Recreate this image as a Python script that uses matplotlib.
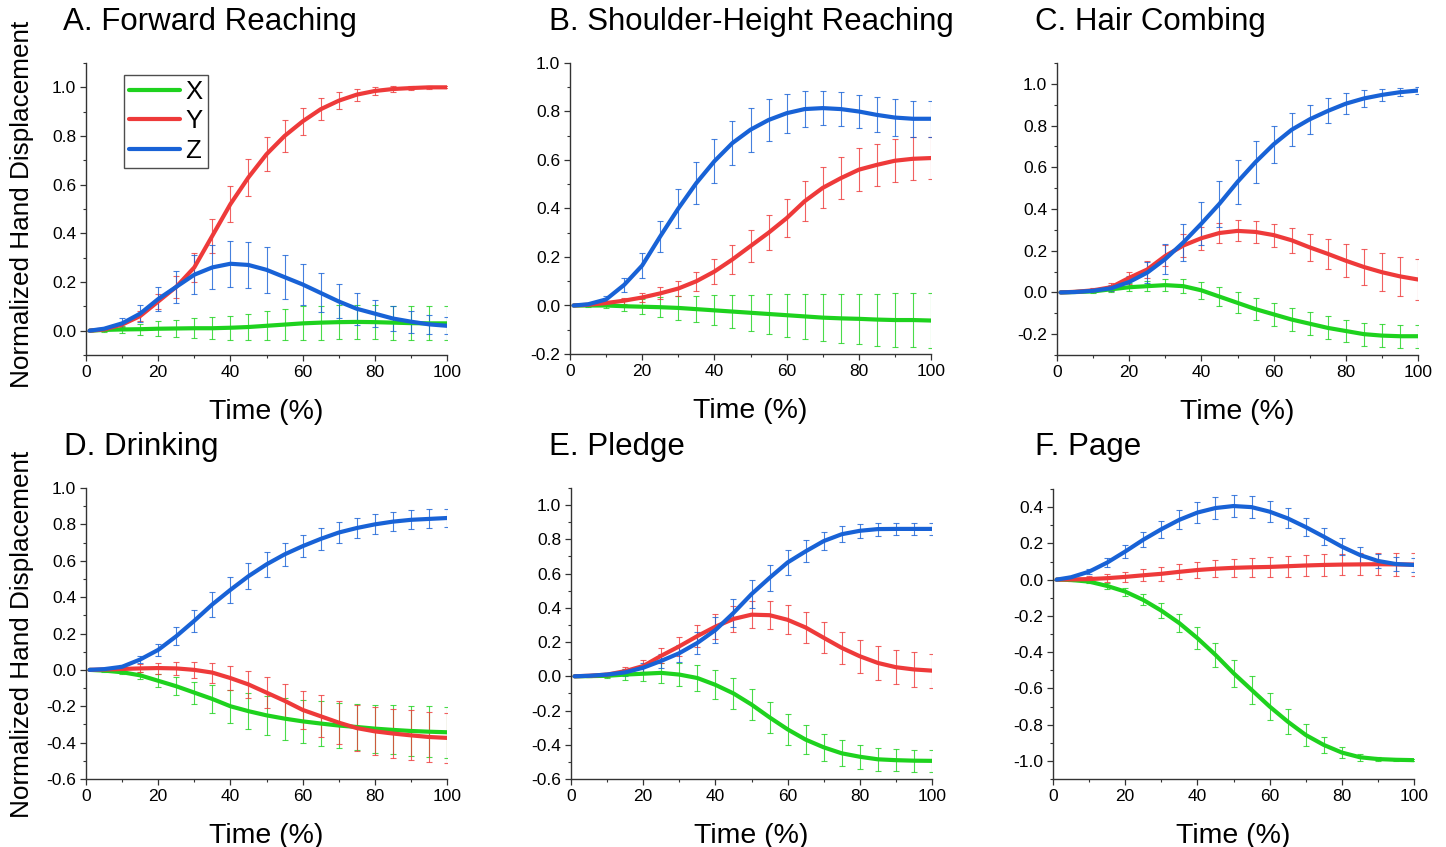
import matplotlib
matplotlib.use("Agg")
import matplotlib.pyplot as plt
from matplotlib.ticker import MultipleLocator

plt.rcParams['font.family'] = ['Liberation Sans', 'DejaVu Sans']

# ---------------- data ----------------
time_pct = [1, 5, 10, 15, 20, 25, 30, 35, 40, 45, 50, 55, 60, 65, 70, 75, 80, 85, 90, 95, 100]

titles = ["A. Forward Reaching", "B. Shoulder-Height Reaching", "C. Hair Combing",
          "D. Drinking", "E. Pledge", "F. Page"]
series_names = ["X", "Y", "Z"]

# A. Forward Reaching
a_x = [0, 0.003, 0.005, 0.006, 0.008, 0.009, 0.01, 0.01, 0.012, 0.015, 0.02, 0.025, 0.03, 0.033, 0.035, 0.036, 0.035, 0.033, 0.031, 0.03, 0.03]
a_x_sd = [0, 0.008, 0.015, 0.022, 0.03, 0.035, 0.04, 0.045, 0.05, 0.055, 0.06, 0.065, 0.07, 0.07, 0.07, 0.07, 0.07, 0.07, 0.07, 0.07, 0.07]
a_y = [0, 0.005, 0.025, 0.06, 0.12, 0.18, 0.26, 0.39, 0.52, 0.63, 0.725, 0.80, 0.86, 0.91, 0.945, 0.97, 0.985, 0.993, 0.997, 1.0, 1.0]
a_y_sd = [0, 0.005, 0.01, 0.02, 0.03, 0.045, 0.06, 0.07, 0.075, 0.075, 0.07, 0.065, 0.055, 0.045, 0.035, 0.025, 0.018, 0.012, 0.008, 0.005, 0.004]
a_z = [0, 0.008, 0.03, 0.07, 0.13, 0.18, 0.23, 0.26, 0.275, 0.27, 0.25, 0.22, 0.19, 0.155, 0.12, 0.09, 0.07, 0.05, 0.037, 0.026, 0.02]
a_z_sd = [0, 0.005, 0.02, 0.035, 0.05, 0.065, 0.08, 0.09, 0.095, 0.095, 0.095, 0.09, 0.085, 0.08, 0.07, 0.065, 0.055, 0.05, 0.045, 0.04, 0.035]

# B. Shoulder-Height Reaching
b_x = [0, 0.0, 0.0, -0.003, -0.005, -0.007, -0.01, -0.015, -0.02, -0.025, -0.03, -0.035, -0.04, -0.045, -0.05, -0.053, -0.055, -0.058, -0.06, -0.06, -0.062]
b_x_sd = [0, 0.005, 0.012, 0.02, 0.03, 0.04, 0.05, 0.055, 0.062, 0.068, 0.075, 0.082, 0.088, 0.093, 0.097, 0.1, 0.104, 0.107, 0.11, 0.112, 0.113]
b_y = [0, 0.003, 0.01, 0.02, 0.033, 0.05, 0.07, 0.1, 0.14, 0.19, 0.245, 0.30, 0.36, 0.43, 0.485, 0.525, 0.56, 0.58, 0.597, 0.605, 0.608]
b_y_sd = [0, 0.003, 0.008, 0.012, 0.02, 0.025, 0.032, 0.04, 0.05, 0.06, 0.065, 0.072, 0.078, 0.082, 0.085, 0.087, 0.088, 0.088, 0.088, 0.088, 0.088]
b_z = [0, 0.005, 0.025, 0.085, 0.165, 0.285, 0.40, 0.505, 0.595, 0.67, 0.725, 0.765, 0.793, 0.81, 0.814, 0.81, 0.80, 0.786, 0.775, 0.77, 0.77]
b_z_sd = [0, 0.005, 0.015, 0.03, 0.05, 0.065, 0.08, 0.085, 0.09, 0.09, 0.09, 0.085, 0.08, 0.075, 0.07, 0.07, 0.07, 0.072, 0.075, 0.075, 0.075]

# C. Hair Combing
c_x = [0, 0.002, 0.005, 0.015, 0.025, 0.03, 0.035, 0.03, 0.01, -0.02, -0.05, -0.08, -0.105, -0.13, -0.15, -0.17, -0.185, -0.2, -0.207, -0.21, -0.21]
c_x_sd = [0, 0.002, 0.008, 0.015, 0.02, 0.025, 0.03, 0.035, 0.04, 0.045, 0.05, 0.052, 0.055, 0.055, 0.055, 0.055, 0.055, 0.055, 0.055, 0.055, 0.055]
c_y = [0, 0.003, 0.01, 0.025, 0.07, 0.11, 0.175, 0.225, 0.26, 0.285, 0.295, 0.29, 0.275, 0.25, 0.216, 0.185, 0.152, 0.122, 0.097, 0.077, 0.062]
c_y_sd = [0, 0.003, 0.01, 0.02, 0.03, 0.04, 0.05, 0.055, 0.055, 0.05, 0.05, 0.052, 0.055, 0.06, 0.065, 0.072, 0.078, 0.085, 0.09, 0.095, 0.1]
c_z = [0, 0.002, 0.008, 0.02, 0.05, 0.095, 0.16, 0.24, 0.33, 0.425, 0.53, 0.625, 0.71, 0.78, 0.83, 0.87, 0.905, 0.93, 0.947, 0.96, 0.968]
c_z_sd = [0, 0.003, 0.008, 0.015, 0.03, 0.05, 0.07, 0.09, 0.105, 0.11, 0.105, 0.1, 0.09, 0.08, 0.07, 0.06, 0.05, 0.04, 0.03, 0.02, 0.015]

# D. Drinking
d_x = [0, -0.004, -0.013, -0.03, -0.06, -0.09, -0.125, -0.16, -0.2, -0.227, -0.25, -0.268, -0.283, -0.295, -0.306, -0.314, -0.323, -0.33, -0.336, -0.34, -0.343]
d_x_sd = [0, 0.005, 0.01, 0.02, 0.035, 0.05, 0.06, 0.075, 0.09, 0.1, 0.108, 0.115, 0.12, 0.123, 0.126, 0.129, 0.132, 0.135, 0.138, 0.14, 0.141]
d_y = [0, 0.002, 0.005, 0.008, 0.01, 0.008, 0.0, -0.015, -0.045, -0.08, -0.125, -0.17, -0.22, -0.255, -0.29, -0.32, -0.338, -0.35, -0.36, -0.369, -0.374]
d_y_sd = [0, 0.005, 0.012, 0.022, 0.03, 0.038, 0.045, 0.055, 0.065, 0.075, 0.085, 0.095, 0.105, 0.115, 0.12, 0.127, 0.132, 0.135, 0.137, 0.137, 0.137]
d_z = [0, 0.004, 0.017, 0.057, 0.11, 0.185, 0.27, 0.36, 0.44, 0.515, 0.58, 0.635, 0.68, 0.72, 0.755, 0.78, 0.80, 0.815, 0.825, 0.83, 0.835]
d_z_sd = [0, 0.003, 0.01, 0.02, 0.035, 0.05, 0.06, 0.068, 0.07, 0.07, 0.068, 0.065, 0.062, 0.06, 0.058, 0.056, 0.055, 0.054, 0.053, 0.052, 0.052]

# E. Pledge
e_x = [0, 0.001, 0.003, 0.01, 0.015, 0.02, 0.01, -0.01, -0.05, -0.1, -0.165, -0.24, -0.31, -0.37, -0.415, -0.45, -0.47, -0.485, -0.49, -0.493, -0.494]
e_x_sd = [0, 0.005, 0.015, 0.03, 0.045, 0.058, 0.068, 0.078, 0.085, 0.09, 0.092, 0.092, 0.09, 0.085, 0.08, 0.075, 0.07, 0.067, 0.065, 0.064, 0.064]
e_y = [0, 0.003, 0.01, 0.03, 0.06, 0.12, 0.175, 0.235, 0.29, 0.335, 0.36, 0.357, 0.33, 0.285, 0.225, 0.166, 0.117, 0.078, 0.053, 0.04, 0.033]
e_y_sd = [0, 0.005, 0.012, 0.025, 0.035, 0.045, 0.055, 0.065, 0.072, 0.078, 0.08, 0.082, 0.085, 0.088, 0.09, 0.093, 0.095, 0.097, 0.098, 0.1, 0.1]
e_z = [0, 0.003, 0.01, 0.023, 0.05, 0.09, 0.135, 0.195, 0.27, 0.37, 0.48, 0.575, 0.665, 0.73, 0.79, 0.83, 0.85, 0.86, 0.861, 0.861, 0.861]
e_z_sd = [0, 0.003, 0.01, 0.02, 0.03, 0.04, 0.05, 0.065, 0.075, 0.08, 0.08, 0.078, 0.072, 0.065, 0.055, 0.048, 0.04, 0.038, 0.037, 0.037, 0.037]

# F. Page
f_x = [0, -0.002, -0.011, -0.035, -0.066, -0.112, -0.171, -0.24, -0.323, -0.415, -0.516, -0.608, -0.70, -0.783, -0.857, -0.912, -0.954, -0.98, -0.99, -0.994, -0.996]
f_x_sd = [0, 0.003, 0.008, 0.015, 0.022, 0.03, 0.04, 0.05, 0.06, 0.068, 0.075, 0.078, 0.077, 0.07, 0.06, 0.045, 0.032, 0.02, 0.012, 0.007, 0.005]
f_y = [0, 0.001, 0.003, 0.008, 0.015, 0.024, 0.032, 0.043, 0.053, 0.06, 0.065, 0.068, 0.07, 0.074, 0.078, 0.081, 0.083, 0.084, 0.085, 0.084, 0.083]
f_y_sd = [0, 0.008, 0.015, 0.022, 0.028, 0.033, 0.038, 0.042, 0.045, 0.048, 0.05, 0.053, 0.055, 0.057, 0.058, 0.06, 0.06, 0.061, 0.062, 0.062, 0.062]
f_z = [0, 0.013, 0.044, 0.094, 0.155, 0.22, 0.278, 0.33, 0.37, 0.395, 0.406, 0.40, 0.375, 0.338, 0.29, 0.237, 0.182, 0.136, 0.103, 0.086, 0.081]
f_z_sd = [0, 0.005, 0.015, 0.025, 0.035, 0.042, 0.048, 0.053, 0.057, 0.06, 0.06, 0.06, 0.058, 0.055, 0.052, 0.048, 0.045, 0.042, 0.04, 0.038, 0.037]

panel_means = [(a_x, a_y, a_z), (b_x, b_y, b_z), (c_x, c_y, c_z),
               (d_x, d_y, d_z), (e_x, e_y, e_z), (f_x, f_y, f_z)]
panel_sds = [(a_x_sd, a_y_sd, a_z_sd), (b_x_sd, b_y_sd, b_z_sd), (c_x_sd, c_y_sd, c_z_sd),
             (d_x_sd, d_y_sd, d_z_sd), (e_x_sd, e_y_sd, e_z_sd), (f_x_sd, f_y_sd, f_z_sd)]

y_limits = [(-0.1, 1.1), (-0.2, 1.0), (-0.3, 1.1), (-0.6, 1.0), (-0.6, 1.1), (-1.1, 0.5)]
x_ticks = [0, 20, 40, 60, 80, 100]

# ---------------- layout / style ----------------
W, H = 1446, 847
colors = ["#1ED21E", "#EE3A3A", "#1862D6"]

# axes boxes in pixels: left, right, top, bottom
boxes = [(86, 447, 63, 355), (570, 931, 63, 354), (1057, 1418, 63, 355),
         (86, 447, 488, 779), (571, 932, 488, 779), (1053, 1414, 489, 779)]
title_pos = [(63, 22), (549, 22), (1035, 22), (64, 447), (549, 447), (1035, 447)]

fig = plt.figure(figsize=(W / 100, H / 100), dpi=100)
fig.patch.set_facecolor("white")

spine_col = "#333333"

for i in range(6):
    l, r, t, b = boxes[i]
    ax = fig.add_axes([l / W, 1 - b / H, (r - l) / W, (b - t) / H])
    means = panel_means[i]
    sds = panel_sds[i]
    handles = []
    for j in range(3):
        ax.errorbar(time_pct, means[j], yerr=sds[j], fmt='none', ecolor=colors[j],
                    elinewidth=0.8, capsize=2.4, capthick=0.8, alpha=0.8, zorder=2 + j)
        ln, = ax.plot(time_pct, means[j], color=colors[j], lw=3.0, zorder=5 + j,
                      label=series_names[j], solid_capstyle='round')
        handles.append(ln)
    ax.set_xlim(0, 100)
    ax.set_ylim(*y_limits[i])
    ax.set_xticks(x_ticks)
    ax.xaxis.set_minor_locator(MultipleLocator(10))
    ax.yaxis.set_major_locator(MultipleLocator(0.2))
    ax.yaxis.set_minor_locator(MultipleLocator(0.1))
    ax.yaxis.set_major_formatter(matplotlib.ticker.FuncFormatter(lambda v, p: f"{v:.1f}".replace("-0.0", "0.0")))
    for s in ["top", "right"]:
        ax.spines[s].set_visible(False)
    for s in ["left", "bottom"]:
        ax.spines[s].set_color(spine_col)
        ax.spines[s].set_linewidth(1.0)
    ax.tick_params(axis='both', which='major', direction='out', length=4, width=0.9,
                   color=spine_col, labelsize=12.5, pad=3)
    ax.tick_params(axis='both', which='minor', direction='out', length=2.5, width=0.8,
                   color=spine_col)
    ax.set_xlabel("Time (%)", fontsize=20.5, labelpad=14)
    fig.text(title_pos[i][0] / W, 1 - title_pos[i][1] / H, titles[i], fontsize=22.5,
             ha='left', va='center')
    if i == 0:
        leg = ax.legend(handles=handles, loc='upper left', bbox_to_anchor=(0.105, 0.96),
                        fontsize=18.5, frameon=True, fancybox=False, handlelength=2.0,
                        handletextpad=0.2, borderpad=0.2, labelspacing=0.22,
                        borderaxespad=0)
        leg.get_frame().set_edgecolor("#222222")
        leg.get_frame().set_linewidth(1.0)

fig.text(22 / W, 1 - 204 / H, "Normalized Hand Displacement", rotation=90,
         fontsize=18.8, ha='center', va='center')
fig.text(22 / W, 1 - 634 / H, "Normalized Hand Displacement", rotation=90,
         fontsize=18.8, ha='center', va='center')

fig.savefig("out.png", dpi=100, facecolor="white")
